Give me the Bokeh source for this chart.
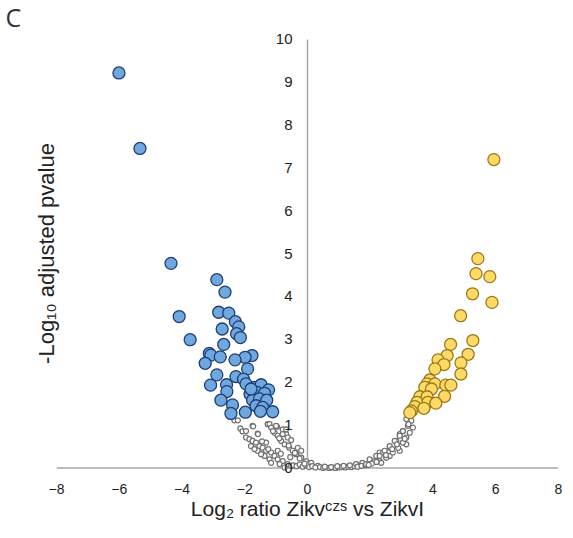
from bokeh.plotting import figure
from bokeh.models import Range1d, FixedTicker, Title, Span
from bokeh.embed import file_html
from bokeh.resources import INLINE

# ---- data ----
down_x = [-6.01, -5.34, -4.35, -4.09, -3.74, -2.89, -2.63, -2.83, -2.51, -2.30, -2.19, -2.72,
          -2.26, -2.14, -2.67, -3.13, -3.08, -2.78, -1.77, -1.99, -2.31, -3.26, -1.91, -2.89,
          -2.28, -3.09, -2.58, -2.04, -1.96, -2.57, -2.76, -2.39, -2.44, -1.98, -1.69, -1.48,
          -1.24, -1.83, -1.61, -1.37, -1.75, -1.53, -1.30, -1.64, -1.43, -1.50, -1.11, -1.80]
down_y = [9.21, 7.45, 4.77, 3.53, 2.99, 4.39, 4.10, 3.63, 3.61, 3.41, 3.29, 3.24,
          3.13, 3.04, 2.88, 2.67, 2.63, 2.59, 2.62, 2.58, 2.52, 2.44, 2.31, 2.17,
          2.13, 1.93, 1.94, 2.07, 1.96, 1.78, 1.58, 1.47, 1.27, 1.30, 1.88, 1.94,
          1.82, 1.72, 1.76, 1.74, 1.58, 1.61, 1.58, 1.45, 1.41, 1.32, 1.31, 1.84]

up_x = [5.94, 5.43, 5.37, 5.81, 5.26, 5.88, 4.88, 5.27, 4.56, 5.12, 4.45, 4.16, 4.89, 4.35,
        4.06, 4.89, 3.90, 3.81, 4.06, 4.41, 4.57, 3.74, 3.95, 3.58, 3.81, 4.37, 3.49, 3.84,
        4.09, 3.42, 3.71, 3.31, 3.26]
up_y = [7.19, 4.88, 4.53, 4.46, 4.06, 3.86, 3.55, 2.97, 2.88, 2.65, 2.62, 2.52, 2.45, 2.41,
        2.31, 2.19, 2.05, 1.96, 1.96, 1.93, 1.93, 1.88, 1.84, 1.66, 1.66, 1.67, 1.53, 1.53,
        1.51, 1.43, 1.39, 1.33, 1.29]

ns_x = [-2.33, -2.22, -2.14, -2.07, -1.96, -1.75, -1.73, -1.59, -1.58, -1.96, -1.85, -1.75,
        -1.64, -1.53, -1.43, -1.32, -1.32, -1.16, -1.05, -0.95, -0.79, -0.63, -0.52,
        -1.27, -1.21, -1.16, -1.05, -0.97, -0.95, -0.84, -0.79, -0.73, -0.68, -0.58, -0.47,
        -0.36, -0.20, -0.04, 0.12, 0.33, -1.00, -0.68, -0.79, -0.63, -0.52, -1.37, -1.21,
        -0.95, -0.31, -0.20, -1.59, -1.80, -1.69, -1.48, -1.16, -0.89, -0.73,
        -0.45, -0.35, -0.25, -0.15, -0.05, 0.05, 0.15, 0.25, 0.40, 0.50, 0.60, 0.70, 0.80,
        0.90, 1.00, 1.10, 1.20, 1.30, 1.40, 1.50, 1.60, 1.70, 1.80, 0.55, 0.75, 0.95, 1.15,
        1.35, 1.55, 1.75, 1.60, 1.72, 1.85,
        1.87, 1.98, 2.19, 2.30, 2.41, 2.62, 2.83, 2.94, 3.04, 3.15, 2.30, 2.62, 2.94,
        3.15, 3.31, 3.20, 3.36, 3.04, 3.26, 2.94, 3.15, 2.78, 3.04, 2.62, 2.89, 2.46,
        2.72, 2.30, 2.51, 2.14, 2.35, 2.05, 2.20, 1.95, 2.50, 2.70, 2.85, 3.10, 3.22,
        -1.10, -0.90, -0.60, -0.40, -0.25, -0.10, -1.45, -1.25, -0.85, -0.55]
ns_y = [1.11, 1.11, 0.92, 0.85, 0.86, 0.98, 0.97, 0.80, 0.79, 0.71, 0.67, 0.63,
        0.59, 0.51, 0.47, 0.59, 0.40, 0.36, 0.28, 0.20, 0.16, 0.09, 0.05,
        1.02, 1.02, 0.94, 0.82, 0.96, 0.75, 0.63, 0.90, 0.55, 0.79, 0.47, 0.40,
        0.32, 0.24, 0.16, 0.12, 0.05, 0.98, 0.90, 0.79, 0.71, 0.65, 0.28, 0.20,
        0.40, 0.47, 0.40, 0.40, 0.51, 0.44, 0.32, 0.12, 0.09, 0.01,
        0.06, 0.04, 0.08, 0.03, 0.06, 0.02, 0.04, 0.01, 0.02, 0.00, 0.01, 0.00, 0.01,
        0.00, 0.01, 0.02, 0.01, 0.03, 0.02, 0.04, 0.05, 0.06, 0.08, 0.03, 0.02, 0.04, 0.05,
        0.06, 0.09, 0.12, 0.03, 0.05, 0.06,
        0.09, 0.20, 0.28, 0.36, 0.36, 0.47, 0.63, 0.79, 0.86, 0.55, 0.16, 0.28, 0.40,
        1.14, 1.10, 0.98, 0.94, 0.86, 0.82, 0.75, 0.71, 0.63, 0.59, 0.51, 0.47, 0.40,
        0.36, 0.28, 0.24, 0.16, 0.12, 0.10, 0.14, 0.07, 0.30, 0.44, 0.55, 0.68, 1.02,
        0.86, 0.69, 0.52, 0.35, 0.22, 0.10, 0.62, 0.44, 0.33, 0.25]

x_ticks = [-8, -6, -4, -2, 0, 2, 4, 6, 8]
y_ticks = [0, 1, 2, 3, 4, 5, 6, 7, 8, 9, 10]

TICK_FONT = "Liberation Sans"
AXIS_GRAY = "#a6a6a6"

p = figure(frame_width=502, frame_height=446, output_backend="svg", toolbar_location=None,
           x_range=Range1d(-8, 8), y_range=Range1d(-0.2, 10.2),
           min_border_left=56, min_border_right=7, min_border_top=30, min_border_bottom=54)
p.outline_line_color = None
p.grid.visible = False
p.background_fill_color = "white"

# panel letter "C"
p.title.text = "C"
p.title.text_font = "Open Sans"
p.title.text_font_style = "normal"
p.title.text_font_size = "25px"
p.title.text_color = "#333333"
p.title.align = "left"
p.title.offset = -51
p.title.standoff = -6

# x axis (labels at the bottom, axis line drawn at y = 0)
xa = p.xaxis[0]
xa.ticker = FixedTicker(ticks=x_ticks)
xa.axis_line_color = None
xa.major_tick_line_color = None
xa.minor_tick_line_color = None
xa.major_label_text_font = TICK_FONT
xa.major_label_text_font_size = "14px"
xa.major_label_text_color = "#222222"
xa.major_label_standoff = 1
xa.axis_label = "Log\u2082 ratio Zikv\u1d9c\u1dbb\u02e2 vs ZikvI"
xa.axis_label_text_font = TICK_FONT
xa.axis_label_text_font_size = "21px"
xa.axis_label_text_font_style = "normal"
xa.axis_label_text_color = "#222222"
xa.axis_label_standoff = 0

p.add_layout(Span(location=0, dimension="width", line_color=AXIS_GRAY,
                  line_width=1.5, level="underlay"))

# y axis at x = 0
ya = p.yaxis[0]
ya.fixed_location = 0
ya.bounds = (0, 10)
ya.ticker = FixedTicker(ticks=y_ticks)
ya.axis_line_color = AXIS_GRAY
ya.axis_line_width = 1.5
ya.major_tick_line_color = None
ya.minor_tick_line_color = None
ya.major_label_text_font = TICK_FONT
ya.major_label_text_font_size = "15px"
ya.major_label_text_color = "#222222"
ya.major_label_standoff = 9
ya.axis_label = None

p.add_layout(Title(text="-Log\u2081\u2080 adjusted pvalue", align="center", standoff=-5,
                   text_font=TICK_FONT, text_font_size="22px",
                   text_font_style="normal", text_color="#222222"), "left")

# points
p.scatter(ns_x, ns_y, size=5, fill_color="white", line_color="#707070", line_width=1.2)
p.scatter(down_x, down_y, size=12, fill_color="#6fa8dc", line_color="#1f3d7a", line_width=1.3)
p.scatter(up_x, up_y, size=12, fill_color="#ffd965", line_color="#9c7a18", line_width=1.3)

open("out.html", "w").write(file_html(p, INLINE))
